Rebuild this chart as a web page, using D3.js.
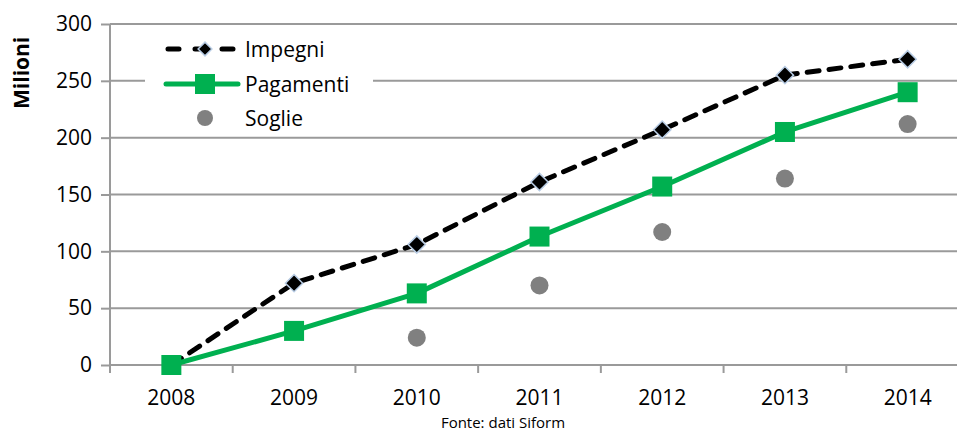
<!DOCTYPE html>
<html>
<head>
<meta charset="utf-8">
<script src="https://cdn.jsdelivr.net/npm/d3@7"></script>
<style>
  body { margin: 0; background: #fff; }
  text { font-family: "Open Sans", "Noto Sans", sans-serif; }
</style>
</head>
<body>
<svg id="chart" width="957" height="432"></svg>
<script>
const years = ["2008", "2009", "2010", "2011", "2012", "2013", "2014"];
const impegni = [0, 72, 106, 161, 207, 255, 269];
const pagamenti = [0, 30, 63, 113, 157, 205, 240];
const soglie = [null, null, 24, 70, 117, 164, 212];
const yTicks = [0, 50, 100, 150, 200, 250, 300];

const margin = { top: 24, right: -12, bottom: 67, left: 110 },
	width = 957 - margin.left - margin.right,
	height = 432 - margin.top - margin.bottom;

const svg = d3.select("#chart")
	.append("g")
	.attr("transform", "translate(" + margin.left + "," + margin.top + ")");

const x = d3.scaleBand().domain(years).range([0, width]);
const y = d3.scaleLinear().domain([0, 300]).range([height, 0]);
const cx = d => x(d) + x.bandwidth() / 2;

// gridlines
svg.append("g")
	.selectAll("line")
	.data(yTicks.slice(1))
	.enter().append("line")
	.attr("x1", 0).attr("x2", width)
	.attr("y1", d => y(d)).attr("y2", d => y(d))
	.style("stroke", "#9a9a9a").style("stroke-width", 2);

// y axis
const yAxis = svg.append("g")
	.call(d3.axisLeft(y).tickValues(yTicks).tickSize(9).tickPadding(9));
yAxis.select(".domain").style("stroke", "#9a9a9a").style("stroke-width", 2).attr("d", `M0,0V${height}`);
yAxis.selectAll(".tick line").style("stroke", "#9a9a9a").style("stroke-width", 2);
yAxis.selectAll(".tick text").style("font-size", "21px").style("fill", "#000");

// x axis
const xAxis = svg.append("g")
	.attr("transform", `translate(0,${height})`)
	.call(d3.axisBottom(x).tickSize(0).tickPadding(25));
xAxis.select(".domain").style("stroke", "#9a9a9a").style("stroke-width", 2).attr("d", `M0,0H${width}`);
xAxis.selectAll(".tick text").style("font-size", "21px").style("fill", "#000");
svg.append("g")
	.selectAll("line")
	.data(years)
	.enter().append("line")
	.attr("x1", d => x(d)).attr("x2", d => x(d))
	.attr("y1", height).attr("y2", height + 8)
	.style("stroke", "#9a9a9a").style("stroke-width", 2);

// Impegni
const line = d3.line().x((d, i) => cx(years[i])).y(d => y(d));
svg.append("path")
	.datum(impegni)
	.attr("d", line)
	.style("fill", "none")
	.style("stroke", "#000")
	.style("stroke-width", 5)
	.style("stroke-dasharray", "12,10")
	.style("stroke-linecap", "round");

const diamond = d3.symbol().type(d3.symbolDiamond2).size(190);
svg.append("g")
	.selectAll("path")
	.data(impegni)
	.enter().append("path")
	.attr("d", diamond)
	.attr("transform", (d, i) => `translate(${cx(years[i])},${y(d)})`)
	.style("fill", "#000")
	.style("stroke", "#b9cde5")
	.style("stroke-width", 1.5);

// Pagamenti
svg.append("path")
	.datum(pagamenti)
	.attr("d", line)
	.style("fill", "none")
	.style("stroke", "#00b050")
	.style("stroke-width", 5)
	.style("stroke-linejoin", "round");

svg.append("g")
	.selectAll("rect")
	.data(pagamenti)
	.enter().append("rect")
	.attr("x", (d, i) => cx(years[i]) - 10)
	.attr("y", d => y(d) - 10)
	.attr("width", 20).attr("height", 20)
	.style("fill", "#00b050");

// Soglie
svg.append("g")
	.selectAll("circle")
	.data(soglie.map((v, i) => ({ year: years[i], v: v })).filter(d => d.v !== null))
	.enter().append("circle")
	.attr("cx", d => cx(d.year))
	.attr("cy", d => y(d.v))
	.attr("r", 9)
	.style("fill", "#808080");

// legend
const legend = svg.append("g").attr("transform", "translate(35,6)");
legend.append("rect")
	.attr("x", 0).attr("y", 0).attr("width", 228).attr("height", 101)
	.style("fill", "#fff");
const items = [
	{ name: "Impegni", dy: 19 },
	{ name: "Pagamenti", dy: 54 },
	{ name: "Soglie", dy: 88 }
];
legend.append("line")
	.attr("x1", 23).attr("x2", 95).attr("y1", items[0].dy).attr("y2", items[0].dy)
	.style("stroke", "#000").style("stroke-width", 5)
	.style("stroke-dasharray", "11,16").style("stroke-linecap", "round");
legend.append("path")
	.attr("d", d3.symbol().type(d3.symbolDiamond2).size(120))
	.attr("transform", `translate(60,${items[0].dy})`)
	.style("fill", "#000").style("stroke", "#b9cde5").style("stroke-width", 1.5);
legend.append("line")
	.attr("x1", 21).attr("x2", 93).attr("y1", items[1].dy).attr("y2", items[1].dy)
	.style("stroke", "#00b050").style("stroke-width", 5).style("stroke-linecap", "round");
legend.append("rect")
	.attr("x", 50).attr("y", items[1].dy - 10).attr("width", 20).attr("height", 20)
	.style("fill", "#00b050");
legend.append("circle")
	.attr("cx", 60).attr("cy", items[2].dy).attr("r", 8)
	.style("fill", "#808080");
legend.selectAll("text.lbl")
	.data(items)
	.enter().append("text")
	.attr("class", "lbl")
	.attr("x", 100)
	.attr("y", d => d.dy + 8)
	.style("font-size", "21px")
	.text(d => d.name);

// axis title
svg.append("text")
	.attr("transform", `translate(-81,${y(250) - 8})rotate(-90)`)
	.attr("text-anchor", "middle")
	.style("font-size", "21px")
	.style("font-weight", "bold")
	.text("Milioni");

svg.append("text")
	.attr("x", 503 - margin.left)
	.attr("y", 428 - margin.top)
	.attr("text-anchor", "middle")
	.style("font-size", "15px")
	.text("Fonte: dati Siform");
</script>
</body>
</html>
